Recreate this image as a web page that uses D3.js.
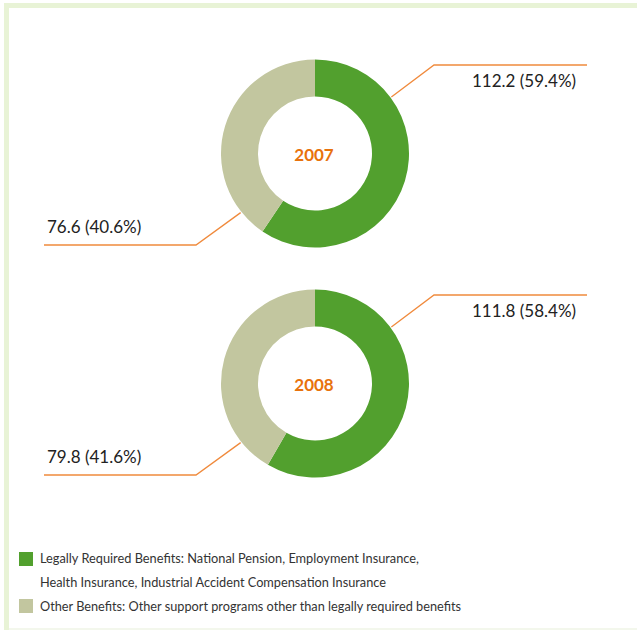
<!DOCTYPE html>
<html lang="en">
  <head>
    <meta charset="utf-8">
    <title>Benefits 2007 / 2008</title>
    <style>
      body { margin: 0; background: #fff; }
      svg { display: block; font-family: Lato, "Open Sans", sans-serif; }
    </style>
  </head>
  <body>
    <svg class="chart"></svg>
    <script src="https://d3js.org/d3.v7.min.js"></script>
    <script>
    // data
    const years = ["2007", "2008"];
    const categories = ["Legally Required Benefits", "Other Benefits"];
    const legalValues = [112.2, 111.8];
    const otherValues = [76.6, 79.8];
    const legalShares = [59.4, 58.4];
    const otherShares = [40.6, 41.6];
    const legendLines = [
      "Legally Required Benefits: National Pension, Employment Insurance,",
      "Health Insurance, Industrial Accident Compensation Insurance",
      "Other Benefits: Other support programs other than legally required benefits"
    ];

    const width = 637, height = 630;
    const colors = d3.scaleOrdinal().domain(categories).range(["#52a02e", "#c2c69f"]);
    const lineColor = "#f08a3c";

    const svg = d3.select(".chart").attr("width", width).attr("height", height);

    // light green frame
    svg.append("rect").attr("x", 4).attr("y", 3).attr("width", width - 4).attr("height", 5).attr("fill", "#e8f3d6");
    svg.append("rect").attr("x", 4).attr("y", 3).attr("width", 5).attr("height", height - 3).attr("fill", "#e8f3d6");
    svg.append("rect").attr("x", 9).attr("y", 628).attr("width", width - 9).attr("height", 2).attr("fill", "#f3f7ec");

    const outerR = 94, innerR = 57;
    const cx = 315;
    const yCenter = d3.scalePoint().domain(years).range([153.5, 383.5]);

    const pie = d3.pie().sort(null).value(d => d.value);
    const arc = d3.arc().innerRadius(innerR).outerRadius(outerR);

    years.forEach(function(year, i) {
      const data = [
        {cat: categories[0], value: legalValues[i], share: legalShares[i]},
        {cat: categories[1], value: otherValues[i], share: otherShares[i]}
      ];
      const g = svg.append("g").attr("transform", "translate(" + cx + "," + yCenter(year) + ")");

      g.selectAll("path").data(pie(data)).enter().append("path")
        .attr("d", arc)
        .attr("fill", d => colors(d.data.cat));

      g.append("text")
        .attr("x", -1).attr("y", 7)
        .attr("text-anchor", "middle")
        .attr("font-size", 17).attr("font-weight", "bold")
        .attr("fill", "#e8720c")
        .text(year);

      // leader lines: upper right for the first slice, lower left for the second
      const leaders = [
        {ang: 53.5, elbow: [119, -88.5], endX: 272, tx: 157, ty: -67, d: data[0]},
        {ang: 231.5, elbow: [-119, 91.5], endX: -271, tx: -268, ty: 79.5, d: data[1]}
      ];
      leaders.forEach(function(l) {
        const a = l.ang * Math.PI / 180;
        const sx = Math.sin(a) * (outerR + 1), sy = -Math.cos(a) * (outerR + 1);
        g.append("path")
          .attr("d", d3.line()([[sx, sy], l.elbow, [l.endX, l.elbow[1]]]))
          .attr("fill", "none").attr("stroke", lineColor).attr("stroke-width", 1.3);
        g.append("text")
          .attr("x", l.tx).attr("y", l.ty)
          .attr("font-size", 17).attr("fill", "#222")
          .text(d3.format(".1f")(l.d.value) + " (" + d3.format(".1f")(l.d.share) + "%)");
      });
    });

    // legend
    const legend = svg.append("g").attr("font-size", 13).attr("fill", "#333");
    legend.selectAll("rect").data(categories).enter().append("rect")
      .attr("x", 19).attr("y", (d, i) => i === 0 ? 552 : 599)
      .attr("width", 14).attr("height", 14)
      .attr("fill", d => colors(d));
    const lineY = [562.5, 586.5, 610.5];
    const lineW = [379, 346, 421];
    legend.selectAll("text").data(legendLines).enter().append("text")
      .attr("x", 40).attr("y", (d, i) => lineY[i])
      .attr("textLength", (d, i) => lineW[i])
      .attr("lengthAdjust", "spacingAndGlyphs")
      .text(d => d);
    </script>
  </body>
</html>
